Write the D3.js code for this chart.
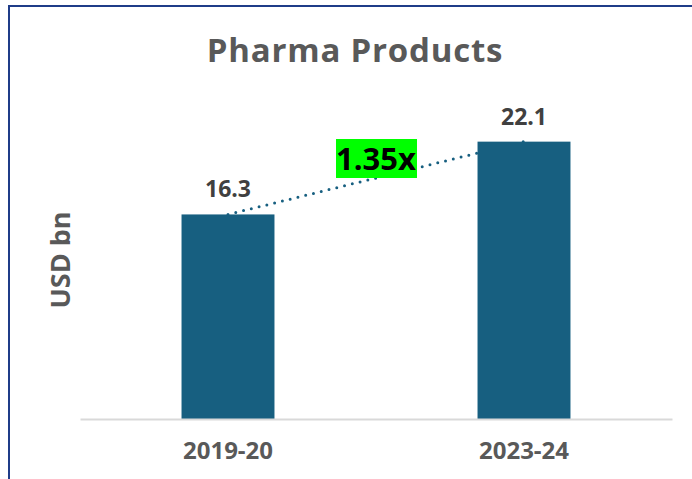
<!DOCTYPE html>
<html>
<head>
<meta charset="utf-8">
<script src="https://cdnjs.cloudflare.com/ajax/libs/d3/7.8.5/d3.min.js"></script>
<style>
  body { margin: 0; background: #fff; }
  svg { display: block; }
  text { font-family: 'Open Sans', sans-serif; font-weight: bold; }
</style>
</head>
<body>
<script>
var years = ["2019-20", "2023-24"];
var values = [16.3, 22.1];
var growthLabel = "1.35x";

var W = 692, H = 479;
var margin = {top: 105, right: 20, bottom: 60, left: 80},
    width = W - margin.left - margin.right,
    height = H - margin.top - margin.bottom;

var svg = d3.select("body")
  .append("svg")
    .attr("width", W)
    .attr("height", H);

// frame lines (top and left)
svg.append("line")
  .attr("x1", 9).attr("x2", W).attr("y1", 6).attr("y2", 6)
  .attr("stroke", "#1f3c88").attr("stroke-width", 2);
svg.append("line")
  .attr("x1", 9).attr("x2", 9).attr("y1", 5).attr("y2", H)
  .attr("stroke", "#1f3c88").attr("stroke-width", 2);

svg.append("text")
  .attr("x", 355)
  .attr("y", 62)
  .attr("text-anchor", "middle")
  .style("font-size", "33px")
  .style("letter-spacing", "0.8px")
  .style("fill", "#595959")
  .text("Pharma Products");

var g = svg.append("g")
  .attr("transform", "translate(" + margin.left + "," + margin.top + ")");

var x = d3.scaleBand()
  .domain(years)
  .range([0, width])
  .paddingInner(0.686)
  .paddingOuter(0.343);

var y = d3.scaleLinear()
  .domain([0, 25])
  .range([height, height - 25 * 12.55]);

// trend line between bar tops, behind bars
g.append("line")
  .attr("x1", x(years[0]) + x.bandwidth() / 2)
  .attr("y1", y(values[0]))
  .attr("x2", x(years[1]) + x.bandwidth() / 2)
  .attr("y2", y(values[1]))
  .attr("stroke", "#175f80")
  .attr("stroke-width", 3)
  .attr("stroke-linecap", "round")
  .attr("stroke-dasharray", "0 8");

g.selectAll(".bar")
  .data(values)
  .enter()
  .append("rect")
    .attr("class", "bar")
    .attr("x", function(d, i) { return x(years[i]); })
    .attr("y", function(d) { return y(d); })
    .attr("width", x.bandwidth())
    .attr("height", function(d) { return height - y(d); })
    .style("fill", "#175f80");

g.selectAll(".val")
  .data(values)
  .enter()
  .append("text")
    .attr("x", function(d, i) { return x(years[i]) + x.bandwidth() / 2; })
    .attr("y", function(d) { return y(d) - 17; })
    .attr("text-anchor", "middle")
    .style("font-size", "23px")
    .style("fill", "#404040")
    .text(function(d) { return d.toFixed(1); });

// x axis
var xAxis = g.append("g")
  .attr("transform", "translate(0," + height + ")")
  .call(d3.axisBottom(x).tickSize(0).tickPadding(23));
xAxis.select(".domain").attr("stroke", "#d9d9d9").attr("stroke-width", 2);
xAxis.selectAll("text")
  .style("font-family", "'Open Sans', sans-serif")
  .style("font-weight", "bold")
  .style("font-size", "24px")
  .style("fill", "#595959");

// growth label
svg.append("rect")
  .attr("x", 336).attr("y", 139)
  .attr("width", 81).attr("height", 39)
  .style("fill", "#00ff00");
svg.append("text")
  .attr("x", 376)
  .attr("y", 170)
  .attr("text-anchor", "middle")
  .style("font-size", "31px")
  .style("fill", "#000")
  .text(growthLabel);

svg.append("text")
  .attr("transform", "translate(70,260) rotate(-90)")
  .attr("text-anchor", "middle")
  .style("font-size", "27px")
  .style("fill", "#595959")
  .text("USD bn");
</script>
</body>
</html>
